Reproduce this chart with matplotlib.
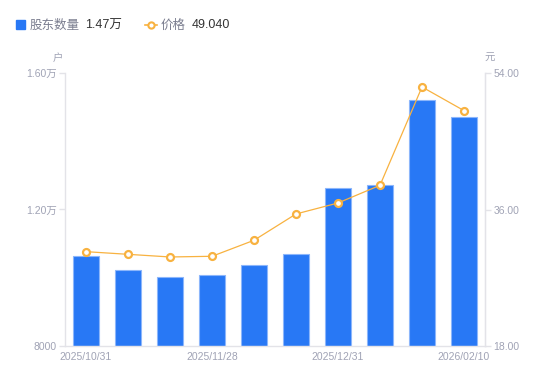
import matplotlib
matplotlib.use("Agg")
import matplotlib.pyplot as plt
from matplotlib.lines import Line2D
from matplotlib.patches import Rectangle

plt.rcParams['font.family'] = ['Liberation Sans', 'Noto Sans CJK SC', 'DejaVu Sans']

dates = ["2025/10/31", "2025/11/07", "2025/11/14", "2025/11/28", "2025/12/05",
         "2025/12/19", "2025/12/31", "2026/01/09", "2026/01/30", "2026/02/10"]
holders = [10630, 10220, 10010, 10080, 10370, 10700, 12620, 12710, 15220, 14700]
prices = [30.44, 30.09, 29.74, 29.83, 31.94, 35.41, 36.86, 39.19, 52.16, 49.04]
tick_idx = [0, 3, 6, 9]
left_ticks = [8000, 12000, 16000]
left_labels = ["8000", "1.20万", "1.60万"]
right_ticks = [18, 36, 54]
right_labels = ["18.00", "36.00", "54.00"]

BLUE = "#2878f5"
EDGE = "#8cb6fb"
ORANGE = "#f8b240"
TXT = "#a0a3b5"
DARK = "#333333"
AX = "#e3e3e8"

fig = plt.figure(figsize=(5.5, 3.81), dpi=100)
ax = fig.add_axes([65/550, 35/381, 420/550, 273/381])
x = list(range(len(dates)))
ax.bar(x, [h - 8000 for h in holders], bottom=8000, width=0.6, color=BLUE,
       edgecolor=EDGE, linewidth=0.8, zorder=2)
ax.set_xlim(-0.5, len(dates) - 0.5)
ax.set_ylim(8000, 16000)
ax.set_yticks(left_ticks)
ax.set_yticklabels(left_labels)
ax.set_xticks(tick_idx)
ax.set_xticklabels([dates[i] for i in tick_idx])
for s in ["top"]:
    ax.spines[s].set_visible(False)
for s in ["left", "right", "bottom"]:
    ax.spines[s].set_color(AX)
    ax.spines[s].set_linewidth(1)
ax.tick_params(axis='y', colors=AX, labelcolor=TXT, labelsize=7.5, length=4, width=1, pad=2)
ax.tick_params(axis='x', length=0, labelcolor=TXT, labelsize=7.5, pad=4)

ax2 = ax.twinx()
ax2.plot(x, prices, color=ORANGE, linewidth=0.9, marker='o', markersize=5,
         markerfacecolor='white', markeredgecolor=ORANGE, markeredgewidth=1.6, zorder=3)
ax2.set_ylim(18, 54)
ax2.set_yticks(right_ticks)
ax2.set_yticklabels(right_labels)
for s in ["top", "left", "bottom"]:
    ax2.spines[s].set_visible(False)
ax2.spines["right"].set_color(AX)
ax2.tick_params(axis='y', colors=AX, labelcolor=TXT, labelsize=7.5, length=4, width=1, pad=2)

fig.text(58/550, 1 - 61/381, "户", color=TXT, fontsize=7.5, ha='center', va='baseline')
fig.text(490/550, 1 - 61/381, "元", color=TXT, fontsize=7.5, ha='center', va='baseline')

# legend
LY = 1 - 28.5/381
fig.patches.append(Rectangle((16/550, 1 - 29/381), 9/550, 9/381, transform=fig.transFigure,
                             color=BLUE, figure=fig))
fig.text(30/550, LY, "股东数量", color="#7a7d8f", fontsize=9, ha='left', va='baseline')
fig.text(85/550, LY, "1.47万", color=DARK, fontsize=9, ha='left', va='baseline')
fig.lines.append(Line2D([145/550, 157/550], [1 - 24.5/381, 1 - 24.5/381], transform=fig.transFigure,
                        color=ORANGE, linewidth=1.2, marker=None, figure=fig))
fig.lines.append(Line2D([151/550], [1 - 24.5/381], transform=fig.transFigure, color=ORANGE,
                        marker='o', markersize=4.5, markerfacecolor='white',
                        markeredgecolor=ORANGE, markeredgewidth=1.5, figure=fig))
fig.text(161/550, LY, "价格", color="#7a7d8f", fontsize=9, ha='left', va='baseline')
fig.text(192/550, LY, "49.040", color=DARK, fontsize=9, ha='left', va='baseline')

fig.savefig("out.png", dpi=100)
